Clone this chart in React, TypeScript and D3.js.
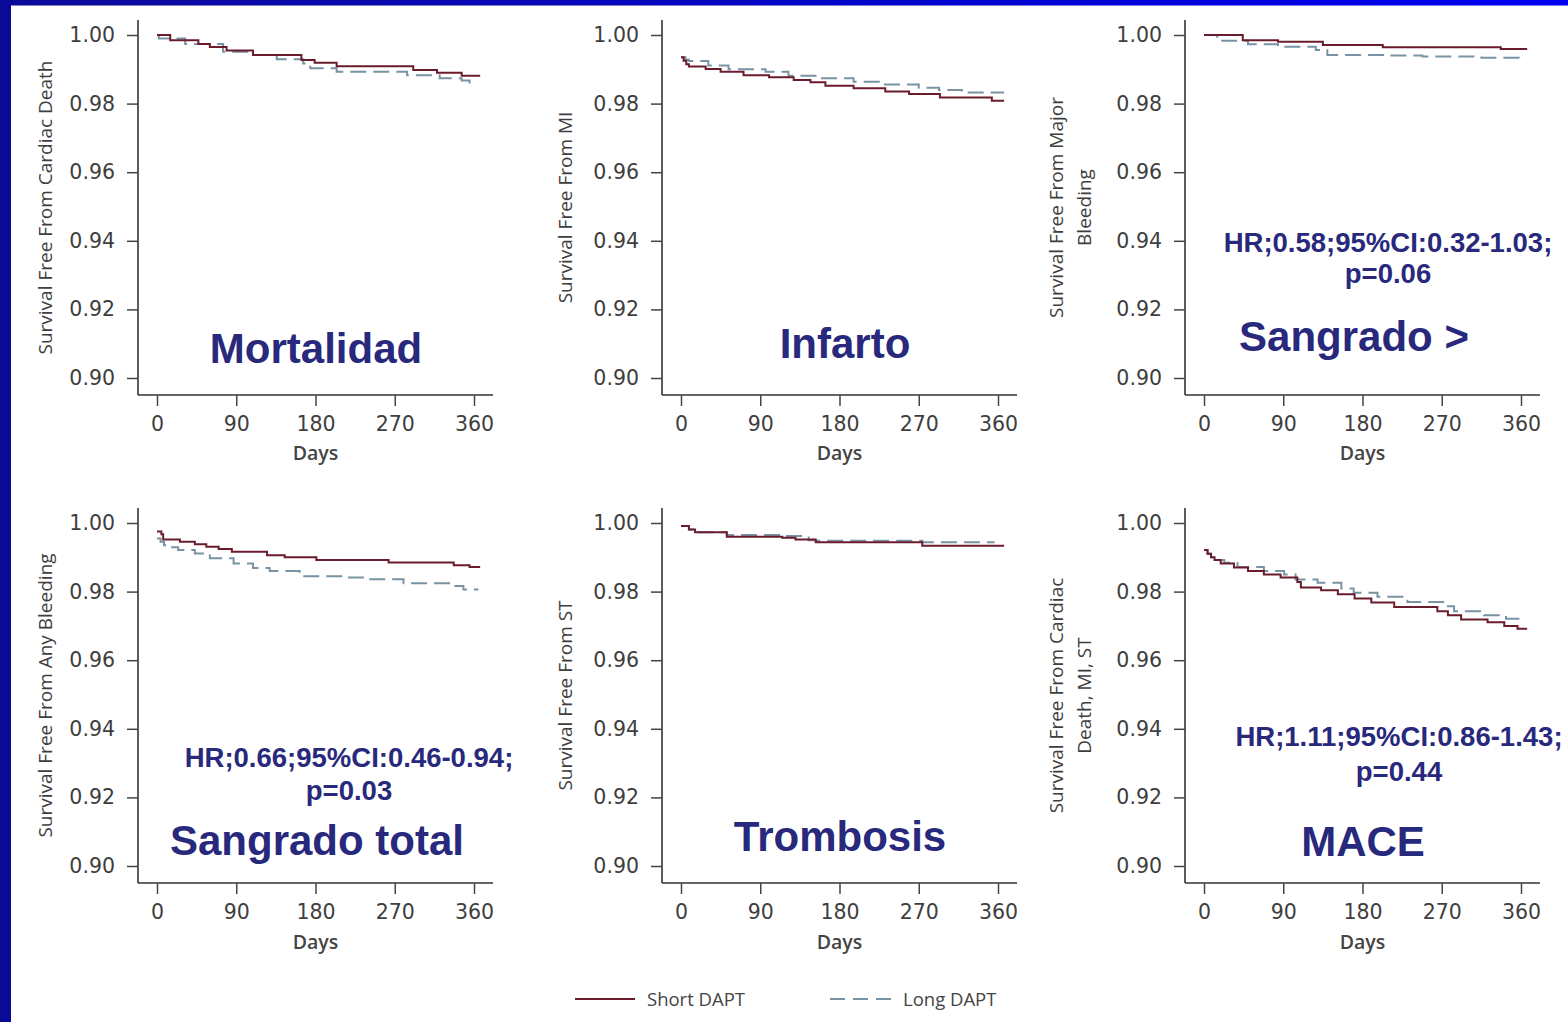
import React, { useEffect, useRef } from 'react';
import * as d3 from 'd3';

// tick values shared by all six panels
const dayTicks = [0, 90, 180, 270, 360];
const survivalTicks = [0.9, 0.92, 0.94, 0.96, 0.98, 1.0];

// Kaplan-Meier steps, [day, survival]
const cardiacDeathShort = [[0, 1.0], [15, 0.9985], [47, 0.9974], [60, 0.9965], [79, 0.9955], [109, 0.9942], [164, 0.9927], [179, 0.9919], [204, 0.9909], [291, 0.9898], [318, 0.989], [346, 0.9881], [367, 0.9881]];
const cardiacDeathLong = [[0, 1.0], [2, 0.999], [32, 0.9974], [75, 0.9951], [109, 0.9942], [136, 0.9929], [166, 0.9917], [174, 0.9903], [204, 0.9893], [284, 0.9883], [321, 0.9874], [346, 0.9867], [355, 0.9857], [358, 0.9857]];

const miShort = [[0, 0.9935], [3, 0.9925], [6, 0.9915], [9, 0.9908], [28, 0.9901], [45, 0.9893], [71, 0.9883], [100, 0.9877], [128, 0.9869], [147, 0.9862], [164, 0.9852], [196, 0.9845], [232, 0.9835], [259, 0.9828], [294, 0.9818], [353, 0.9808], [367, 0.9808]];
const miLong = [[0, 0.9935], [5, 0.9928], [9, 0.9924], [31, 0.9911], [54, 0.99], [96, 0.9893], [122, 0.9881], [156, 0.9874], [196, 0.9864], [225, 0.9856], [270, 0.9846], [293, 0.984], [319, 0.9832], [367, 0.9832]];

const majorBleedShort = [[0, 1.0], [44, 0.9985], [84, 0.998], [135, 0.9971], [203, 0.9964], [337, 0.9959], [367, 0.9959]];
const majorBleedLong = [[0, 1.0], [15, 0.9983], [50, 0.9973], [84, 0.9966], [127, 0.9956], [140, 0.9942], [209, 0.994], [248, 0.9937], [315, 0.9934], [358, 0.9932]];

const anyBleedShort = [[0, 0.9975], [5, 0.9967], [7, 0.9952], [26, 0.9945], [43, 0.9938], [56, 0.9931], [70, 0.9924], [85, 0.9916], [125, 0.9906], [145, 0.99], [181, 0.9892], [263, 0.9885], [337, 0.9877], [355, 0.9872], [367, 0.9872]];
const anyBleedLong = [[0, 0.9955], [4, 0.9945], [8, 0.9935], [12, 0.9929], [24, 0.9921], [43, 0.9911], [60, 0.9897], [87, 0.9882], [109, 0.9869], [128, 0.986], [162, 0.9845], [212, 0.9841], [238, 0.9836], [280, 0.9824], [337, 0.9816], [348, 0.9806], [365, 0.9806]];

const stShort = [[0, 0.9991], [9, 0.9981], [16, 0.9973], [52, 0.996], [115, 0.9957], [130, 0.9952], [153, 0.9944], [274, 0.9934], [367, 0.9934]];
const stLong = [[0, 0.9991], [9, 0.9981], [16, 0.9973], [52, 0.9965], [115, 0.9962], [145, 0.995], [153, 0.9948], [274, 0.9944], [356, 0.9944]];

const maceShort = [[0, 0.9921], [4, 0.991], [8, 0.99], [12, 0.9892], [19, 0.9882], [34, 0.987], [50, 0.986], [68, 0.985], [87, 0.9841], [106, 0.9828], [110, 0.9812], [133, 0.9804], [152, 0.9792], [171, 0.978], [190, 0.9768], [216, 0.9755], [265, 0.9743], [277, 0.9731], [292, 0.9719], [322, 0.9711], [341, 0.97], [356, 0.9692], [367, 0.9692]];
const maceLong = [[0, 0.9921], [4, 0.991], [8, 0.99], [12, 0.9892], [23, 0.9884], [38, 0.9872], [68, 0.986], [91, 0.985], [104, 0.9835], [129, 0.9826], [156, 0.9809], [170, 0.9797], [197, 0.9785], [231, 0.977], [277, 0.9757], [284, 0.9743], [318, 0.9731], [343, 0.9721], [363, 0.9716]];

const yTitles = [
    ['Survival Free From Cardiac Death'],
    ['Survival Free From MI'],
    ['Survival Free From Major', 'Bleeding'],
    ['Survival Free From Any Bleeding'],
    ['Survival Free From ST'],
    ['Survival Free From Cardiac', 'Death, MI, ST'],
];
const outcomeLabels = ['Mortalidad', 'Infarto', 'Sangrado >', 'Sangrado total', 'Trombosis', 'MACE'];
const hrLabels = [
    null,
    null,
    ['HR;0.58;95%CI:0.32-1.03;', 'p=0.06'],
    ['HR;0.66;95%CI:0.46-0.94;', 'p=0.03'],
    null,
    ['HR;1.11;95%CI:0.86-1.43;', 'p=0.44'],
];
const legendLabels = ['Short DAPT', 'Long DAPT'];
const xAxisLabel = 'Days';

// layout
const W = 1568;
const H = 1022;
const colAxisX = [138, 662, 1185];
const rowTopY = [35, 523];
const plotH = 343;
const titleOffsets = [[-86], [-90], [-122, -94], [-86], [-90], [-122, -94]];
const outcomePos = [[316, 363], [845, 358], [1354, 351], [317, 855], [840, 851], [1363, 856]];
const hrPos = [null, null, [1388, 252, 283], [349, 767, 800], null, [1399, 746, 781]];

const SHORT_COLOR = '#6a1b2c';
const LONG_COLOR = '#7893a3';
const NAVY = '#28287c';
const TICK_FONT = '"DejaVu Sans", sans-serif';
const TEXT_FONT = '"Open Sans", sans-serif';
const BOLD_FONT = '"Liberation Sans", Arial, sans-serif';

const panels = [
    { short: cardiacDeathShort, long: cardiacDeathLong },
    { short: miShort, long: miLong },
    { short: majorBleedShort, long: majorBleedLong },
    { short: anyBleedShort, long: anyBleedLong },
    { short: stShort, long: stLong },
    { short: maceShort, long: maceLong },
];

function App() {
    const svgRef = useRef(null);

    useEffect(() => {
        const svg = d3.select(svgRef.current);
        svg.selectAll('*').remove();

        svg.append('rect').attr('width', W).attr('height', H).attr('fill', '#fff');

        // blue slide frame
        const grad = svg.append('defs').append('linearGradient')
            .attr('id', 'topBand').attr('x1', '0%').attr('x2', '100%');
        grad.append('stop').attr('offset', '0%').attr('stop-color', '#0a0a98');
        grad.append('stop').attr('offset', '100%').attr('stop-color', '#0000f2');
        svg.append('rect').attr('x', 0).attr('y', 0).attr('width', W).attr('height', 5.5).attr('fill', 'url(#topBand)');
        svg.append('rect').attr('x', 0).attr('y', 0).attr('width', 11).attr('height', H).attr('fill', '#0a0a98');

        panels.forEach((p, i) => {
            const col = i % 3;
            const row = Math.floor(i / 3);
            const ax = colAxisX[col];
            const top = rowTopY[row];
            const axisY = top + plotH + 17;

            const x = d3.scaleLinear().domain([0, 360]).range([ax + 19, ax + 336]);
            const y = d3.scaleLinear().domain([0.9, 1.0]).range([top + plotH, top]);

            const g = svg.append('g');

            // axis lines
            g.append('line')
                .attr('x1', ax).attr('x2', ax)
                .attr('y1', top - 15).attr('y2', axisY)
                .attr('stroke', '#333').attr('stroke-width', 1.6);
            g.append('line')
                .attr('x1', ax).attr('x2', ax + 355)
                .attr('y1', axisY).attr('y2', axisY)
                .attr('stroke', '#333').attr('stroke-width', 1.6);

            const yAxis = g.append('g')
                .attr('transform', `translate(${ax},0)`)
                .call(d3.axisLeft(y).tickValues(survivalTicks).tickSize(11).tickPadding(12).tickFormat(d3.format('.2f')));
            const xAxis = g.append('g')
                .attr('transform', `translate(0,${axisY})`)
                .call(d3.axisBottom(x).tickValues(dayTicks).tickSize(11).tickPadding(10));

            [yAxis, xAxis].forEach(a => {
                a.select('.domain').remove();
                a.selectAll('.tick line').attr('stroke', '#444').attr('stroke-width', 1.5);
                a.selectAll('.tick text')
                    .attr('fill', '#3e3e3e')
                    .style('font-family', TICK_FONT)
                    .style('font-size', '20.5px');
            });

            g.append('text')
                .attr('x', x(180)).attr('y', axisY + 65 + (row ? 1 : 0))
                .attr('text-anchor', 'middle')
                .style('font-family', TEXT_FONT).style('font-size', '19.5px').style('font-weight', 600)
                .attr('fill', '#444')
                .text(xAxisLabel);

            // y title (rotated)
            const midY = (top - 15 + axisY) / 2;
            yTitles[i].forEach((line, k) => {
                const tx = ax + titleOffsets[i][k];
                g.append('text')
                    .attr('transform', `translate(${tx},${midY}) rotate(-90)`)
                    .attr('text-anchor', 'middle')
                    .style('font-family', TEXT_FONT).style('font-size', '19px')
                    .attr('fill', '#3e3e3e')
                    .text(line);
            });

            // curves
            const line = d3.line()
                .x(d => x(d[0]))
                .y(d => y(d[1]))
                .curve(d3.curveStepAfter);

            g.append('path')
                .attr('d', line(p.long))
                .attr('fill', 'none')
                .attr('stroke', LONG_COLOR)
                .attr('stroke-width', 2)
                .attr('stroke-dasharray', '16,7');
            g.append('path')
                .attr('d', line(p.short))
                .attr('fill', 'none')
                .attr('stroke', SHORT_COLOR)
                .attr('stroke-width', 2);

            // overlay labels
            g.append('text')
                .attr('x', outcomePos[i][0]).attr('y', outcomePos[i][1])
                .attr('text-anchor', 'middle')
                .style('font-family', BOLD_FONT).style('font-size', '42px').style('font-weight', 700)
                .attr('fill', NAVY)
                .text(outcomeLabels[i]);

            const hr = hrLabels[i];
            if (hr) {
                hr.forEach((t, k) => {
                    g.append('text')
                        .attr('x', hrPos[i][0]).attr('y', hrPos[i][1 + k])
                        .attr('text-anchor', 'middle')
                        .style('font-family', BOLD_FONT).style('font-size', '27.5px').style('font-weight', 700)
                        .attr('fill', NAVY)
                        .text(t);
                });
            }
        });

        // legend
        const lg = svg.append('g');
        lg.append('line').attr('x1', 575).attr('x2', 635).attr('y1', 999).attr('y2', 999)
            .attr('stroke', SHORT_COLOR).attr('stroke-width', 2);
        lg.append('line').attr('x1', 830).attr('x2', 891).attr('y1', 999).attr('y2', 999)
            .attr('stroke', LONG_COLOR).attr('stroke-width', 2).attr('stroke-dasharray', '15,8');
        lg.selectAll('text.leg')
            .data(legendLabels)
            .enter()
            .append('text')
            .attr('class', 'leg')
            .attr('x', (d, k) => (k === 0 ? 647 : 903))
            .attr('y', 1005.5)
            .style('font-family', TEXT_FONT).style('font-size', '18.5px')
            .attr('fill', '#444')
            .text(d => d);
    }, []);

    return (
        <svg ref={svgRef} width={W} height={H}
            style={{ position: 'absolute', left: 0, top: 0, display: 'block' }}></svg>
    );
}

export default App;
